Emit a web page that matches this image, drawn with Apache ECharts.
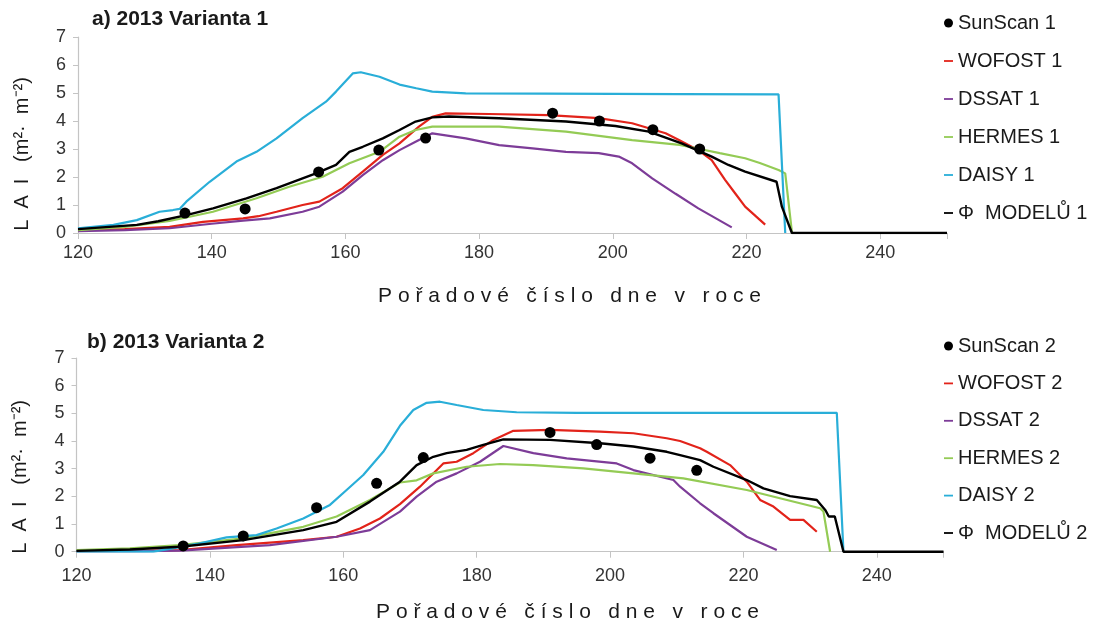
<!DOCTYPE html>
<html>
<head>
<meta charset="utf-8">
<script src="https://cdn.jsdelivr.net/npm/echarts@6/dist/echarts.min.js"></script>
<style>
  html, body { margin: 0; padding: 0; background: #fff; }
  #chart { width: 1096px; height: 628px; }
</style>
</head>
<body>
<div id="chart"></div>
<script>
// Leaf area index (LAI) of the crop over the 2013 season, measured (SunScan)
// and simulated by four crop models plus their average, for two variants.
// Each pair is [day of year, LAI].

const xTicks = [120, 140, 160, 180, 200, 220, 240];
const yTicks = [0, 1, 2, 3, 4, 5, 6, 7];

// ---- a) Varianta 1 ----
const sunScan1 = [[136,0.71],[145,0.86],[156,2.18],[165,2.96],[172,3.39],[191,4.28],[198,4.0],[206,3.69],[213,3.0]];
const wofost1 = [[120,0.1],[127,0.14],[133.7,0.22],[138.7,0.4],[144.7,0.52],[147,0.6],[149.7,0.76],[153.6,1.0],[156.1,1.12],[159.6,1.6],[162.6,2.19],[165.6,2.79],[168.1,3.2],[171,3.8],[173,4.15],[175,4.27],[181.5,4.25],[190.4,4.21],[197.9,4.1],[202.9,3.92],[207.9,3.56],[209.9,3.32],[212.8,2.96],[214.8,2.6],[216.8,1.9],[218.3,1.42],[219.8,0.94],[222.8,0.3]];
const dssat1 = [[120,0.07],[127,0.1],[133.7,0.17],[140,0.33],[144.7,0.44],[148.7,0.52],[153.6,0.76],[156.1,0.94],[159.6,1.48],[162.6,2.07],[165.6,2.6],[168.1,2.96],[170.5,3.26],[173,3.56],[178,3.38],[183,3.14],[188,3.02],[193,2.9],[197.9,2.85],[200.9,2.73],[202.9,2.49],[205.9,1.95],[209.4,1.4],[212.8,0.88],[217.8,0.2]];
const hermes1 = [[120,0.1],[127,0.22],[133.7,0.43],[140.2,0.76],[146.7,1.24],[151.6,1.65],[156.6,2.01],[160.6,2.49],[165.1,2.9],[168.1,3.44],[170.5,3.68],[173,3.8],[183,3.8],[193,3.62],[202.9,3.32],[210,3.15],[213,3.0],[216,2.85],[219.8,2.67],[222,2.5],[224.8,2.25],[225.8,2.13],[226.8,0.03]];
const daisy1 = [[120,0.17],[125.3,0.29],[128.8,0.46],[132.2,0.76],[134.2,0.82],[135.2,0.86],[136.2,1.12],[139.7,1.83],[143.7,2.55],[146.7,2.9],[149.7,3.38],[153.6,4.1],[157.1,4.69],[158.6,5.05],[161.1,5.7],[162.3,5.74],[165.1,5.58],[168.1,5.3],[170.6,5.17],[173,5.05],[178,4.99],[190,4.98],[210,4.96],[224.8,4.95],[225.8,0]];
const modely1 = [[120,0.14],[128.8,0.29],[132,0.42],[136.2,0.64],[140.2,0.88],[145.2,1.24],[149.7,1.6],[155.6,2.13],[158.6,2.43],[160.6,2.9],[162.6,3.08],[165.6,3.38],[168.1,3.68],[170.5,3.98],[173,4.13],[175.5,4.16],[183,4.1],[193,3.98],[200.4,3.82],[205.4,3.62],[210.3,3.2],[214.8,2.73],[217.3,2.43],[219.8,2.19],[224.5,1.83],[225.3,0.94],[226.8,0],[250,0]];

// ---- b) Varianta 2 ----
const sunScan2 = [[136,0.21],[145,0.57],[156,1.59],[165,2.47],[172,3.4],[191,4.31],[198,3.87],[206,3.38],[213,2.94]];
const wofost2 = [[120,0.02],[130,0.03],[135.5,0.06],[144,0.24],[154,0.42],[159,0.54],[162.5,0.84],[165.5,1.2],[168.5,1.72],[171.5,2.35],[175,3.19],[177,3.25],[179.5,3.56],[182.5,4.04],[185.5,4.37],[191,4.4],[198.5,4.34],[203.5,4.28],[208.5,4.1],[210.5,4.0],[213.5,3.74],[214.5,3.61],[218,3.13],[220.5,2.53],[222.5,1.87],[224.5,1.63],[227,1.15],[229,1.15],[231,0.72]];
const dssat2 = [[120,0.02],[130,0.02],[135.5,0.04],[149,0.24],[159,0.54],[164,0.78],[168.5,1.45],[171,1.99],[174,2.53],[177,2.83],[180.5,3.25],[184,3.82],[188.5,3.56],[193.5,3.37],[201,3.19],[203.5,2.95],[209.5,2.59],[210.5,2.35],[213.5,1.75],[215.5,1.39],[220.5,0.54],[225,0.06]];
const hermes2 = [[120,0.06],[128,0.12],[135.5,0.24],[145,0.48],[154,0.9],[159,1.27],[164,1.87],[168.5,2.5],[171,2.58],[173.5,2.83],[178.5,3.07],[183.5,3.17],[188.5,3.13],[196,3.01],[203.5,2.83],[211,2.65],[220.5,2.23],[231.5,1.57],[232,1.45],[233,0]];
const daisy2 = [[120,0],[131.5,0],[134,0.1],[138,0.28],[142.5,0.52],[147,0.6],[150,0.84],[154,1.2],[158,1.69],[160.5,2.23],[163,2.77],[166,3.61],[168.5,4.55],[170.5,5.12],[172.5,5.38],[174.5,5.42],[177,5.3],[181,5.12],[186,5.04],[195,5.02],[234,5.02],[235,0]];
const modely2 = [[120,0.03],[128,0.08],[135.5,0.18],[145,0.42],[154,0.78],[159,1.08],[164,1.81],[168.5,2.53],[171,3.13],[173.5,3.43],[175.5,3.56],[178.5,3.68],[181,3.86],[184,4.06],[191,4.04],[198.5,3.92],[203.5,3.8],[208.5,3.61],[210.5,3.49],[213.5,3.31],[215.5,3.07],[220.5,2.59],[223,2.29],[227,2.01],[231,1.87],[232.3,1.5],[232.8,1.27],[233.7,1.27],[235,0],[250,0]];

const FONT = '"Liberation Sans", Arial, sans-serif';
const COLORS = { wofost: '#e2231a', dssat: '#7d3c98', hermes: '#94cb55', daisy: '#29aed8', modely: '#000000', sun: '#000000' };

const dashIcon = 'path://M0,0H10V2H0Z';

function xAxisFor(gridIndex, nameGap, labelMargin, shift) {
  return {
    type: 'value', gridIndex, min: 120, max: 250, interval: 20,
    name: 'P o ř a d o v é   č í s l o   d n e   v   r o c e',
    nameLocation: 'middle', nameGap, nameMoveOverlap: false,
    nameTextStyle: { fontFamily: FONT, fontSize: 21, color: '#1a1a1a', padding: [0, 0, 0, shift] },
    axisLine: { show: true, lineStyle: { color: '#c4c4c4', width: 1.2 } },
    axisTick: { show: true, length: 6, lineStyle: { color: '#c4c4c4' } },
    axisLabel: { fontFamily: FONT, fontSize: 18, color: '#333', margin: labelMargin,
      formatter: v => xTicks.includes(v) ? String(v) : '' },
    splitLine: { show: false }
  };
}

function yAxisFor(gridIndex, shift) {
  return {
    type: 'value', gridIndex, min: 0, max: 7, interval: 1,
    name: 'L  A  I   (m²·  m⁻²)',
    nameLocation: 'middle', nameRotate: 90, nameGap: 46, nameMoveOverlap: false,
    nameTextStyle: { fontFamily: FONT, fontSize: 20, color: '#1a1a1a', padding: [0, shift, 0, 0] },
    axisLine: { show: true, lineStyle: { color: '#c4c4c4', width: 1.2 } },
    axisTick: { show: true, length: 5, lineStyle: { color: '#c4c4c4' } },
    axisLabel: { fontFamily: FONT, fontSize: 18, color: '#333', margin: 12,
      formatter: v => yTicks.includes(v) ? String(v) : '' },
    splitLine: { show: false }
  };
}

function lineSeries(name, data, color, idx, width) {
  return {
    name, type: 'line', data, xAxisIndex: idx, yAxisIndex: idx,
    showSymbol: false, symbol: 'none', smooth: false,
    lineStyle: { color, width: width || 2.2 }, itemStyle: { color },
    emphasis: { disabled: true }, animation: false, z: 2
  };
}

function scatterSeries(name, data, idx) {
  return {
    name, type: 'scatter', data, xAxisIndex: idx, yAxisIndex: idx,
    symbol: 'circle', symbolSize: 11, itemStyle: { color: COLORS.sun, opacity: 1 },
    emphasis: { disabled: true }, animation: false, z: 5
  };
}

function legendFor(top, gap, names) {
  return {
    orient: 'vertical', left: 939, top, itemGap: gap, itemWidth: 9, itemHeight: 10,
    symbolKeepAspect: true, selectedMode: false,
    itemStyle: { borderWidth: 0 },
    textStyle: { fontFamily: FONT, fontSize: 20, color: '#1a1a1a' },
    data: names.map((n, i) => ({ name: n, icon: i === 0 ? 'circle' : dashIcon }))
  };
}

const names1 = ['SunScan 1', 'WOFOST 1', 'DSSAT 1', 'HERMES 1', 'DAISY 1', 'Φ  MODELŮ 1'];
const names2 = ['SunScan 2', 'WOFOST 2', 'DSSAT 2', 'HERMES 2', 'DAISY 2', 'Φ  MODELŮ 2'];

const option = {
  backgroundColor: '#ffffff',
  animation: false,
  textStyle: { fontFamily: FONT },
  title: [
    { text: 'a) 2013 Varianta 1', left: 87, top: 4, textStyle: { fontFamily: FONT, fontSize: 21, fontWeight: 'bold', color: '#1a1a1a' } },
    { text: 'b) 2013 Varianta 2', left: 82, top: 327, textStyle: { fontFamily: FONT, fontSize: 21, fontWeight: 'bold', color: '#1a1a1a' } }
  ],
  grid: [
    { left: 78, top: 37, width: 869, height: 196, outerBoundsMode: 'none', containLabel: false },
    { left: 76.5, top: 358, width: 867, height: 193.7, outerBoundsMode: 'none', containLabel: false }
  ],
  xAxis: [xAxisFor(0, 53, 11, 114), xAxisFor(1, 50, 15, 115)],
  yAxis: [yAxisFor(0, 38), yAxisFor(1, 44)],
  legend: [legendFor(8, 18, names1), legendFor(331, 17.4, names2)],
  series: [
    scatterSeries(names1[0], sunScan1, 0),
    lineSeries(names1[1], wofost1, COLORS.wofost, 0),
    lineSeries(names1[2], dssat1, COLORS.dssat, 0),
    lineSeries(names1[3], hermes1, COLORS.hermes, 0),
    lineSeries(names1[4], daisy1, COLORS.daisy, 0),
    lineSeries(names1[5], modely1, COLORS.modely, 0, 2.4),
    scatterSeries(names2[0], sunScan2, 1),
    lineSeries(names2[1], wofost2, COLORS.wofost, 1),
    lineSeries(names2[2], dssat2, COLORS.dssat, 1),
    lineSeries(names2[3], hermes2, COLORS.hermes, 1),
    lineSeries(names2[4], daisy2, COLORS.daisy, 1),
    lineSeries(names2[5], modely2, COLORS.modely, 1, 2.4)
  ]
};

const chart = echarts.init(document.getElementById('chart'), null, { renderer: 'canvas' });
chart.setOption(option);
</script>
</body>
</html>
